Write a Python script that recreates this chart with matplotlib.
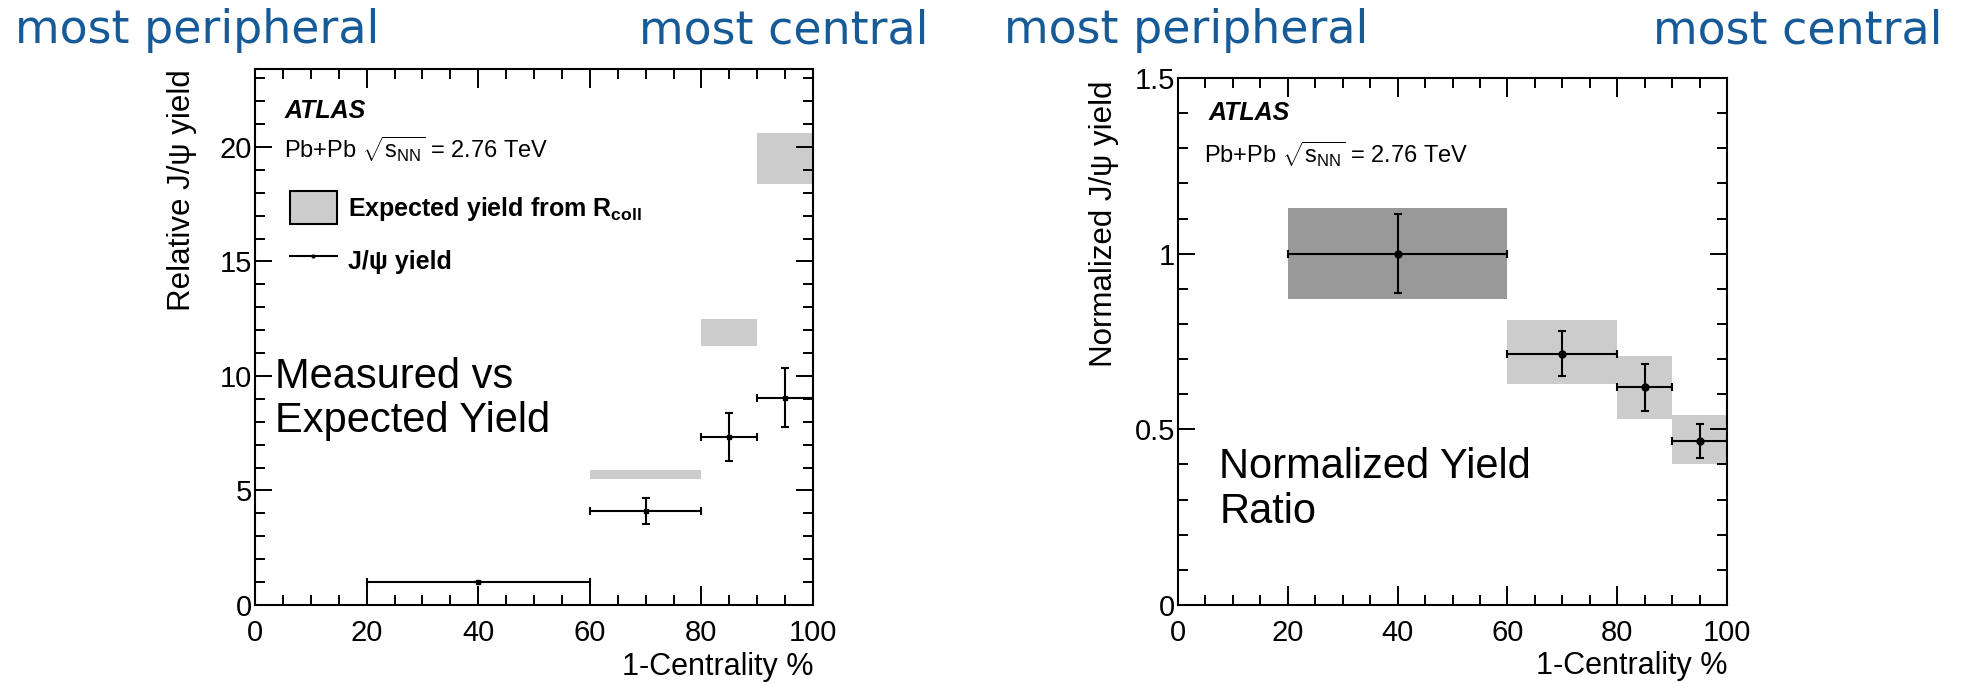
import matplotlib
matplotlib.use("Agg")
import matplotlib.pyplot as plt
import numpy as np
from matplotlib.patches import Patch
from matplotlib.lines import Line2D
from matplotlib.ticker import MultipleLocator, FuncFormatter

plt.rcParams['font.family'] = ['Liberation Sans', 'DejaVu Sans']
plt.rcParams['mathtext.fontset'] = 'custom'
plt.rcParams['mathtext.rm'] = 'Liberation Sans'
plt.rcParams['mathtext.it'] = 'Liberation Sans:italic'
plt.rcParams['mathtext.bf'] = 'Liberation Sans:bold'

# centrality bins (1 - centrality, %)
bin_lo = np.array([20, 60, 80, 90])
bin_hi = np.array([60, 80, 90, 100])

# left: relative J/psi yield and expected yield from Rcoll
rel_yield = np.array([1.0, 4.1, 7.35, 9.05])
rel_err = np.array([0.0, 0.55, 1.05, 1.3])
exp_lo = np.array([5.5, 11.3, 18.4])     # bins 60-80, 80-90, 90-100
exp_hi = np.array([5.9, 12.5, 20.6])

# right: normalized yield
norm_yield = np.array([1.0, 0.715, 0.62, 0.467])
norm_err = np.array([0.113, 0.064, 0.067, 0.048])
norm_box_lo = np.array([0.87, 0.63, 0.53, 0.40])
norm_box_hi = np.array([1.13, 0.81, 0.71, 0.54])
norm_box_col = ['#999999', '#cccccc', '#cccccc', '#cccccc']

x_mid = (bin_lo + bin_hi) / 2
x_half = (bin_hi - bin_lo) / 2

W, H = 1962, 683
fig = plt.figure(figsize=(W / 100, H / 100), dpi=100)
axL = fig.add_axes([255 / W, (H - 605) / H, 558 / W, 536 / H])
axR = fig.add_axes([1178 / W, (H - 605) / H, 549 / W, 527 / H])

def style(ax, ymaj, ymin):
    ax.set_xlim(0, 100)
    ax.xaxis.set_major_locator(MultipleLocator(20))
    ax.xaxis.set_minor_locator(MultipleLocator(5))
    ax.yaxis.set_major_locator(MultipleLocator(ymaj))
    ax.yaxis.set_minor_locator(MultipleLocator(ymin))
    ax.yaxis.set_major_formatter(FuncFormatter(lambda v, p: '%g' % v))
    ax.tick_params(which='both', direction='in', top=True, right=True, width=1.4)
    ax.tick_params(axis='x', which='major', length=14, labelsize=21, pad=10)
    ax.tick_params(axis='x', which='minor', length=7)
    ax.tick_params(axis='y', which='major', length=12, labelsize=21, pad=2)
    ax.tick_params(axis='y', which='minor', length=7)
    for s in ax.spines.values():
        s.set_linewidth(1.5)
    ax.set_xlabel('1-Centrality %', fontsize=22, loc='right')
    ax.xaxis.set_label_coords(1.0, -0.088)

# ---- left panel ----
style(axL, 5, 1)
axL.set_ylim(0, 23.4)
axL.bar(x_mid[1:], exp_hi - exp_lo, bottom=exp_lo, width=bin_hi[1:] - bin_lo[1:],
        color='#cccccc', linewidth=0, zorder=1)
axL.errorbar(x_mid, rel_yield, xerr=x_half, yerr=rel_err, fmt='s', color='k', ms=3,
             elinewidth=1.5, capsize=3, capthick=1.5, zorder=3)
axL.set_ylabel('Relative J/ψ yield', fontsize=22.5, loc='top')
axL.yaxis.set_label_coords(-0.104, 1.0)
axL.text(0.052, 0.9216, 'ATLAS', transform=axL.transAxes, fontsize=18,
         fontweight='bold', fontstyle='italic', va='center')
axL.text(0.052, 0.834, r'Pb+Pb $\sqrt{\mathrm{s}_{\mathrm{NN}}}$ = 2.76 TeV',
         transform=axL.transAxes, fontsize=17, va='baseline')
handles = [Patch(facecolor='#cccccc', edgecolor='k', linewidth=1.5),
           Line2D([], [], color='k', lw=1.5, marker='o', ms=2)]
axL.legend(handles, [r'Expected yield from R$_{\mathbf{coll}}$', 'J/ψ yield'],
           loc='upper left', bbox_to_anchor=(0.062, 0.772), frameon=False,
           prop={'size': 18, 'weight': 'bold'}, borderpad=0, borderaxespad=0,
           handlelength=1.9, handleheight=1.65, labelspacing=0.8, handletextpad=0.45)
axL.text(0.036, 0.463, 'Measured vs\nExpected Yield', transform=axL.transAxes,
         fontsize=30, va='top', linespacing=1.15)

# ---- right panel ----
style(axR, 0.5, 0.1)
axR.set_ylim(0, 1.5)
axR.bar(x_mid, norm_box_hi - norm_box_lo, bottom=norm_box_lo, width=bin_hi - bin_lo,
        color=norm_box_col, linewidth=0, zorder=1)
axR.errorbar(x_mid, norm_yield, xerr=x_half, yerr=norm_err, fmt='o', color='k', ms=5,
             elinewidth=1.5, capsize=3, capthick=1.5, zorder=3)
axR.set_ylabel('Normalized J/ψ yield', fontsize=22.5, loc='top')
axR.yaxis.set_label_coords(-0.107, 0.995)
axR.text(0.055, 0.934, 'ATLAS', transform=axR.transAxes, fontsize=18,
         fontweight='bold', fontstyle='italic', va='center')
axR.text(0.047, 0.839, r'Pb+Pb $\sqrt{\mathrm{s}_{\mathrm{NN}}}$ = 2.76 TeV',
         transform=axR.transAxes, fontsize=17, va='baseline')
axR.text(0.075, 0.300, 'Normalized Yield\nRatio', transform=axR.transAxes,
         fontsize=30, va='top', linespacing=1.15)

# ---- handwritten-style headers ----
hdr = dict(fontsize=33, color='#175a98', family='DejaVu Sans', va='baseline')
fig.text(15 / W, (H - 43) / H, 'most peripheral', ha='left', **hdr)
fig.text(928 / W, (H - 43) / H, 'most central', ha='right', **hdr)
fig.text(1004 / W, (H - 43) / H, 'most peripheral', ha='left', **hdr)
fig.text(1942 / W, (H - 43) / H, 'most central', ha='right', **hdr)

fig.savefig('out.png', dpi=100)
